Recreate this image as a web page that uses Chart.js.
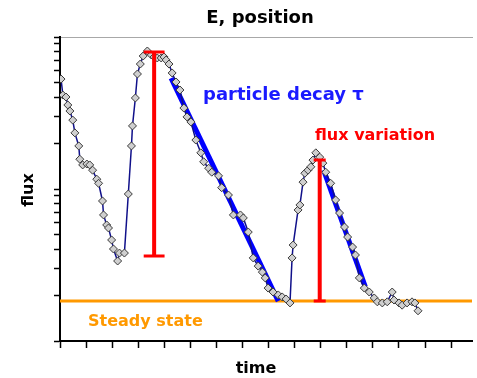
<!DOCTYPE html>
<html lang="en">
<head>
    <meta charset="UTF-8">
    <title>E, position</title>
    <script src="https://cdn.jsdelivr.net/npm/chart.js@4.4.1/dist/chart.umd.min.js"></script>
    <style>
        body { margin: 0; background: #fff; }
        canvas { display: block; }
    </style>
</head>
<body>
    <canvas id="fluxChart" width="477" height="378"></canvas>

    <script>
        const timeVals = [0.04,0.11,0.23,0.30,0.38,0.49,0.57,0.72,0.76,0.87,
            1.03,1.14,1.25,1.41,1.48,1.63,1.67,1.79,1.86,1.98,
            2.05,2.21,2.28,2.47,2.62,2.74,2.78,2.89,2.97,3.08,
            3.19,3.35,3.50,3.61,3.73,3.88,3.99,4.07,4.18,4.30,
            4.45,4.60,4.75,4.87,5.02,5.21,5.40,5.51,5.70,5.82,
            6.08,6.20,6.46,6.65,6.92,7.03,7.22,7.41,7.60,7.76,
            7.87,7.98,8.17,8.37,8.52,8.67,8.82,8.90,8.94,9.13,
            9.20,9.32,9.39,9.51,9.62,9.70,9.81,9.96,10.08,10.19,
            10.38,10.57,10.72,10.91,11.03,11.22,11.33,11.48,11.67,11.86,
            12.05,12.17,12.36,12.55,12.74,12.81,13.00,13.12,13.31,13.50,
            13.61,13.73];
        const fluxVals = [52.9,41.5,40.3,35.7,32.6,28.4,23.4,19.2,15.7,14.4,
            14.6,14.4,13.3,11.6,10.9,8.34,6.75,5.80,5.54,4.62,
            4.03,3.36,3.79,3.79,9.27,19.2,26.0,39.7,57.1,66.4,
            75.0,80.9,76.2,73.9,72.8,72.8,73.9,70.6,66.4,58.0,
            50.6,44.8,34.1,29.8,27.6,21.0,17.3,15.1,13.7,12.9,
            12.2,10.2,9.13,6.75,6.75,6.45,5.21,3.52,3.11,2.84,
            2.60,2.23,2.10,2.01,1.95,1.89,1.78,3.52,4.28,7.28,
            7.85,11.1,12.7,13.3,14.0,15.5,17.3,16.2,14.8,12.9,
            10.9,8.47,6.95,5.62,4.83,4.15,3.68,2.60,2.23,2.10,
            1.92,1.81,1.78,1.81,2.10,1.86,1.78,1.72,1.78,1.81,
            1.78,1.58];

        // decay fits (particle decay tau)
        const decay1Time = [4.26, 8.37];
        const decay1Flux = [53.7, 1.83];
        const decay2Time = [10.11, 11.71];
        const decay2Flux = [13.3, 2.27];

        // flux variation bars
        const varTime = [3.61, 9.96];
        const varTop = [79.7, 15.5];
        const varBottom = [3.63, 1.83];

        const steadyState = 1.83;

        // axes
        const timeMax = 15.8;
        const timeTicks = [0,1,2,3,4,5,6,7,8,9,10,11,12,13,14,15];
        const fluxTicks = [1,2,3,4,5,6,7,8,9,10,20,30,40,50,60,70,80,90,100];

        const capHalf = [0.4, 0.23];
        const FONT = "'DejaVu Sans', Verdana, sans-serif";

        const pts = (xs, ys) => xs.map((x, i) => ({ x, y: ys[i] }));

        // vertical bars and their caps, split with null gaps
        const barLines = [];
        const barCaps = [];
        varTime.forEach((t, i) => {
            barLines.push({ x: t, y: varTop[i] }, { x: t, y: varBottom[i] }, { x: t, y: null });
            [varTop[i], varBottom[i]].forEach(v => {
                barCaps.push({ x: t - capHalf[i], y: v }, { x: t + capHalf[i], y: v }, { x: t, y: null });
            });
        });

        const textPlugin = {
            id: 'textos',
            afterDraw(chart) {
                const ctx = chart.ctx;
                ctx.save();
                ctx.textBaseline = 'alphabetic';

                ctx.fillStyle = '#000';
                ctx.font = 'bold 18px ' + FONT;
                ctx.textAlign = 'center';
                ctx.fillText('E, position', 260, 23);

                ctx.font = 'bold 16px ' + FONT;
                ctx.fillText('time', 256, 373);

                ctx.save();
                ctx.translate(33, 190);
                ctx.rotate(-Math.PI / 2);
                ctx.fillText('flux', 0, 0);
                ctx.restore();

                ctx.textAlign = 'left';
                ctx.fillStyle = '#1a1aff';
                ctx.font = 'bold 18px ' + FONT;
                ctx.fillText('particle decay \u03c4', 203, 100);

                ctx.fillStyle = '#ff0000';
                ctx.font = 'bold 16px ' + FONT;
                ctx.fillText('flux variation', 315, 140);

                ctx.fillStyle = '#ff9900';
                ctx.fillText('Steady state', 88, 326);

                ctx.restore();
            }
        };

        new Chart(document.getElementById('fluxChart'), {
            type: 'line',
            data: {
                datasets: [
                    {
                        data: barLines,
                        borderColor: '#ff0000',
                        borderWidth: 4,
                        pointRadius: 0,
                        spanGaps: false,
                        order: 0
                    },
                    {
                        data: barCaps,
                        borderColor: '#ff0000',
                        borderWidth: 3,
                        pointRadius: 0,
                        spanGaps: false,
                        order: 0
                    },
                    {
                        data: pts(timeVals, fluxVals),
                        borderColor: '#10108a',
                        borderWidth: 1.5,
                        pointStyle: 'rectRot',
                        pointRadius: 4,
                        pointBackgroundColor: '#cfcfcf',
                        pointBorderColor: '#3a3a3a',
                        pointBorderWidth: 1,
                        order: 1
                    },
                    {
                        data: pts(decay1Time, decay1Flux),
                        borderColor: '#0000ff',
                        borderWidth: 5,
                        pointRadius: 0,
                        order: 2
                    },
                    {
                        data: pts(decay2Time, decay2Flux),
                        borderColor: '#0000ff',
                        borderWidth: 5,
                        pointRadius: 0,
                        order: 2
                    },
                    {
                        data: [{ x: 0, y: steadyState }, { x: timeMax, y: steadyState }],
                        borderColor: '#ff9900',
                        borderWidth: 3,
                        pointRadius: 0,
                        order: 3
                    }
                ]
            },
            options: {
                responsive: false,
                animation: false,
                devicePixelRatio: 1,
                layout: { padding: { left: 54, right: 2, top: 37, bottom: 30 } },
                plugins: {
                    legend: { display: false },
                    tooltip: { enabled: false },
                    title: { display: false }
                },
                scales: {
                    x: {
                        type: 'linear',
                        min: 0,
                        max: timeMax,
                        afterBuildTicks: scale => {
                            scale.ticks = timeTicks.map(v => ({ value: v }));
                        },
                        ticks: { display: false, autoSkip: false },
                        grid: { drawOnChartArea: false, tickLength: 7, tickColor: '#000', tickWidth: 1.5 },
                        border: { color: '#000', width: 2 }
                    },
                    x2: {
                        type: 'linear',
                        position: 'top',
                        min: 0,
                        max: 1,
                        ticks: { display: false },
                        grid: { display: false, drawTicks: false, tickLength: 0 },
                        border: { color: '#a8a8a8', width: 1 }
                    },
                    y: {
                        type: 'logarithmic',
                        min: 1,
                        max: 100,
                        afterBuildTicks: scale => {
                            scale.ticks = fluxTicks.map(v => ({ value: v }));
                        },
                        ticks: { display: false, autoSkip: false },
                        grid: { drawOnChartArea: false, tickLength: 6, tickColor: '#000', tickWidth: 1.5 },
                        border: { color: '#000', width: 2 }
                    }
                }
            },
            plugins: [textPlugin]
        });
    </script>
</body>
</html>
